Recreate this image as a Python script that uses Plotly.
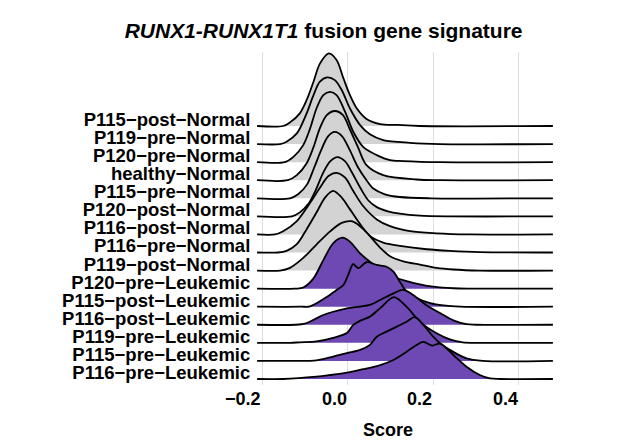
import plotly.graph_objects as go

# Row labels, top to bottom
CATEGORIES = [
    "P115−post−Normal", "P119−pre−Normal", "P120−pre−Normal", "healthy−Normal",
    "P115−pre−Normal", "P120−post−Normal", "P116−post−Normal", "P116−pre−Normal",
    "P119−post−Normal", "P120−pre−Leukemic", "P115−post−Leukemic", "P116−post−Leukemic",
    "P119−pre−Leukemic", "P115−pre−Leukemic", "P116−pre−Leukemic",
]
GROUPS = ["Normal"] * 9 + ["Leukemic"] * 6

# Scaled density curves (score, scaled density)
X_P115_POST_NORMAL = [-0.212, -0.151, -0.135, -0.112, -0.096, -0.080, -0.065, -0.044, -0.026, -0.010, 0.005, 0.021, 0.044, 0.076, 0.115, 0.169, 0.480]
D_P115_POST_NORMAL = [0, 0, 0.20, 0.70, 1.44, 2.45, 3.45, 4.02, 3.65, 2.64, 1.72, 0.98, 0.39, 0.11, 0.06, 0, 0]

X_P119_PRE_NORMAL = [-0.212, -0.158, -0.143, -0.119, -0.096, -0.080, -0.065, -0.048, -0.030, -0.014, 0.005, 0.029, 0.052, 0.083, 0.146, 0.216, 0.480]
D_P119_PRE_NORMAL = [0, 0, 0.13, 0.59, 1.70, 2.71, 3.45, 3.69, 3.54, 2.99, 1.98, 1.05, 0.54, 0.22, 0.07, 0, 0]

X_P120_PRE_NORMAL = [-0.212, -0.147, -0.127, -0.104, -0.088, -0.073, -0.057, -0.041, -0.026, -0.006, 0.013, 0.036, 0.068, 0.099, 0.130, 0.216, 0.480]
D_P120_PRE_NORMAL = [0, 0, 0.29, 0.94, 1.86, 2.97, 3.71, 3.89, 3.71, 2.78, 1.68, 0.85, 0.39, 0.11, 0.06, 0, 0]

X_HEALTHY_NORMAL = [-0.212, -0.140, -0.119, -0.096, -0.080, -0.065, -0.049, -0.030, -0.011, 0.005, 0.024, 0.044, 0.083, 0.161, 0.216, 0.480]
D_HEALTHY_NORMAL = [0, 0, 0.28, 0.94, 1.83, 2.88, 3.60, 3.83, 3.60, 2.82, 1.83, 0.83, 0.28, 0.04, 0, 0]

X_P115_PRE_NORMAL = [-0.212, -0.135, -0.116, -0.095, -0.079, -0.062, -0.046, -0.030, -0.013, 0.005, 0.024, 0.044, 0.060, 0.087, 0.122, 0.193, 0.480]
D_P115_PRE_NORMAL = [0, 0, 0.22, 0.77, 1.66, 2.66, 3.43, 3.67, 3.43, 2.66, 1.72, 1.00, 0.54, 0.22, 0.07, 0, 0]

X_P120_POST_NORMAL = [-0.212, -0.130, -0.112, -0.091, -0.074, -0.058, -0.041, -0.024, -0.006, 0.010, 0.029, 0.048, 0.068, 0.094, 0.122, 0.169, 0.239, 0.480]
D_P120_POST_NORMAL = [0, 0, 0.22, 0.72, 1.49, 2.38, 3.04, 3.28, 3.04, 2.43, 1.60, 0.89, 0.51, 0.28, 0.15, 0.04, 0, 0]

X_P116_POST_NORMAL = [-0.212, -0.170, -0.151, -0.119, -0.088, -0.065, -0.045, -0.026, -0.006, 0.013, 0.036, 0.068, 0.099, 0.146, 0.208, 0.286, 0.480]
D_P116_POST_NORMAL = [0, 0, 0.18, 0.74, 1.75, 2.58, 3.23, 3.41, 3.14, 2.40, 1.57, 0.83, 0.46, 0.18, 0.06, 0, 0]

X_P116_PRE_NORMAL = [-0.212, -0.163, -0.143, -0.119, -0.096, -0.073, -0.053, -0.034, -0.014, 0.005, 0.029, 0.052, 0.083, 0.122, 0.185, 0.239, 0.309, 0.480]
D_P116_PRE_NORMAL = [0, 0, 0.09, 0.46, 1.29, 2.21, 3.04, 3.41, 3.04, 2.40, 1.57, 0.92, 0.55, 0.37, 0.18, 0.09, 0.02, 0]

X_P119_POST_NORMAL = [-0.212, -0.158, -0.135, -0.104, -0.073, -0.041, -0.014, 0.009, 0.029, 0.052, 0.076, 0.099, 0.130, 0.169, 0.208, 0.247, 0.309, 0.480]
D_P119_POST_NORMAL = [0, 0, 0.15, 0.70, 1.44, 2.17, 2.64, 2.73, 2.45, 1.90, 1.26, 0.79, 0.51, 0.33, 0.15, 0.06, 0, 0]

X_P120_PRE_LEUKEMIC = [-0.212, -0.123, -0.104, -0.080, -0.057, -0.034, -0.012, 0.005, 0.029, 0.052, 0.076, 0.107, 0.138, 0.169, 0.200, 0.247, 0.286, 0.480]
D_P120_PRE_LEUKEMIC = [0, 0, 0.06, 0.57, 1.58, 2.51, 2.82, 2.60, 1.95, 1.49, 1.12, 0.66, 0.42, 0.24, 0.11, 0.02, 0, 0]

X_P115_POST_LEUKEMIC = [-0.212, -0.110, -0.088, -0.049, -0.026, -0.010, 0.001, 0.013, 0.025, 0.044, 0.068, 0.091, 0.107, 0.122, 0.138, 0.161, 0.193, 0.224, 0.263, 0.480]
D_P115_POST_LEUKEMIC = [0, 0, 0.02, 0.54, 0.92, 1.20, 1.75, 2.35, 2.13, 2.46, 2.31, 2.21, 1.94, 1.38, 0.83, 0.48, 0.20, 0.07, 0, 0]

X_P116_POST_LEUKEMIC = [-0.212, -0.123, -0.100, -0.080, -0.057, -0.034, -0.002, 0.029, 0.052, 0.076, 0.107, 0.130, 0.153, 0.185, 0.216, 0.247, 0.278, 0.300, 0.480]
D_P116_POST_LEUKEMIC = [0, 0, 0.06, 0.27, 0.54, 0.72, 0.91, 1.01, 1.10, 1.37, 1.74, 1.93, 1.65, 1.07, 0.65, 0.24, 0.03, 0, 0]

X_P119_PRE_LEUKEMIC = [-0.212, -0.135, -0.112, -0.073, -0.034, -0.002, 0.013, 0.029, 0.052, 0.076, 0.108, 0.138, 0.169, 0.208, 0.239, 0.269, 0.309, 0.480]
D_P119_PRE_LEUKEMIC = [0, 0, 0.03, 0.08, 0.28, 0.54, 0.99, 1.22, 1.45, 1.92, 2.53, 1.99, 1.16, 0.53, 0.19, 0.03, 0, 0]

X_P115_PRE_LEUKEMIC = [-0.212, -0.135, -0.073, -0.034, -0.002, 0.029, 0.052, 0.068, 0.091, 0.115, 0.138, 0.157, 0.177, 0.200, 0.216, 0.247, 0.278, 0.316, 0.480]
D_P115_PRE_LEUKEMIC = [0, 0, 0.03, 0.24, 0.43, 0.61, 0.89, 1.34, 1.62, 1.90, 2.17, 2.42, 1.99, 1.34, 0.98, 0.50, 0.14, 0, 0]

X_P116_PRE_LEUKEMIC = [-0.212, -0.151, -0.073, -0.041, -0.002, 0.036, 0.076, 0.107, 0.138, 0.161, 0.177, 0.198, 0.216, 0.247, 0.278, 0.309, 0.333, 0.357, 0.480]
D_P116_PRE_LEUKEMIC = [0, 0, 0.13, 0.22, 0.35, 0.54, 0.77, 1.05, 1.51, 1.88, 2.05, 1.85, 1.96, 1.33, 0.68, 0.22, 0.03, 0, 0]

X_TICKS = [-0.2, 0.0, 0.2, 0.4]
X_TICK_TEXT = ["−0.2", "0.0", "0.2", "0.4"]

FILL = {"Normal": "#d3d3d3", "Leukemic": "#6e48b3"}

ROWS = [
    (X_P115_POST_NORMAL, D_P115_POST_NORMAL),
    (X_P119_PRE_NORMAL, D_P119_PRE_NORMAL),
    (X_P120_PRE_NORMAL, D_P120_PRE_NORMAL),
    (X_HEALTHY_NORMAL, D_HEALTHY_NORMAL),
    (X_P115_PRE_NORMAL, D_P115_PRE_NORMAL),
    (X_P120_POST_NORMAL, D_P120_POST_NORMAL),
    (X_P116_POST_NORMAL, D_P116_POST_NORMAL),
    (X_P116_PRE_NORMAL, D_P116_PRE_NORMAL),
    (X_P119_POST_NORMAL, D_P119_POST_NORMAL),
    (X_P120_PRE_LEUKEMIC, D_P120_PRE_LEUKEMIC),
    (X_P115_POST_LEUKEMIC, D_P115_POST_LEUKEMIC),
    (X_P116_POST_LEUKEMIC, D_P116_POST_LEUKEMIC),
    (X_P119_PRE_LEUKEMIC, D_P119_PRE_LEUKEMIC),
    (X_P115_PRE_LEUKEMIC, D_P115_PRE_LEUKEMIC),
    (X_P116_PRE_LEUKEMIC, D_P116_PRE_LEUKEMIC),
]

FONT = "Liberation Sans, Arial, Helvetica, sans-serif"
n = len(ROWS)

fig = go.Figure()
for i, (xs, ds) in enumerate(ROWS):
    base = n - 1 - i
    fig.add_trace(go.Scatter(
        x=[xs[0], xs[-1]], y=[base, base], mode="lines",
        line=dict(width=0, color="rgba(0,0,0,0)"),
        hoverinfo="skip", showlegend=False,
    ))
    fig.add_trace(go.Scatter(
        x=xs, y=[base + d for d in ds], mode="lines",
        line=dict(color="black", width=1.8, shape="spline", smoothing=0.9),
        fill="tonexty", fillcolor=FILL[GROUPS[i]],
        name=CATEGORIES[i], showlegend=False,
    ))

for v, t in zip(X_TICKS, X_TICK_TEXT):
    fig.add_annotation(
        x=v, xref="x", y=-0.006, yref="paper", text=t, showarrow=False,
        xanchor="right", yanchor="top", xshift=1,
        font=dict(family=FONT, size=18, color="black", weight="bold"),
    )

fig.add_annotation(
    x=0.4385, xref="paper", y=-0.135, yref="paper", text="Score", showarrow=False,
    xanchor="center", yanchor="middle",
    font=dict(family=FONT, size=18, color="black", weight="bold"),
)

fig.update_layout(
    width=614, height=433,
    margin=dict(l=248, r=65, t=44, b=56),
    paper_bgcolor="white", plot_bgcolor="white",
    title=dict(
        text="<i>RUNX1-RUNX1T1</i> fusion gene signature",
        x=0.514, xref="container", xanchor="center",
        y=0.947, yref="container", yanchor="middle",
        font=dict(family=FONT, size=21, color="black", weight="bold"),
    ),
    xaxis=dict(
        range=[-0.2145, 0.4896], tickvals=X_TICKS, showticklabels=False,
        showgrid=True, gridcolor="#dedede", gridwidth=1,
        zeroline=False, showline=False, ticks="",
    ),
    yaxis=dict(
        range=[-0.333, 18.095],
        tickvals=[n - 1 - i + 0.36 for i in range(n)], ticktext=CATEGORIES,
        tickfont=dict(family=FONT, size=18.5, color="black", weight="bold"),
        ticks="outside", ticklen=1, tickcolor="rgba(0,0,0,0)",
        showgrid=False, zeroline=False, showline=False,
    ),
)

fig.write_html("out.html")
